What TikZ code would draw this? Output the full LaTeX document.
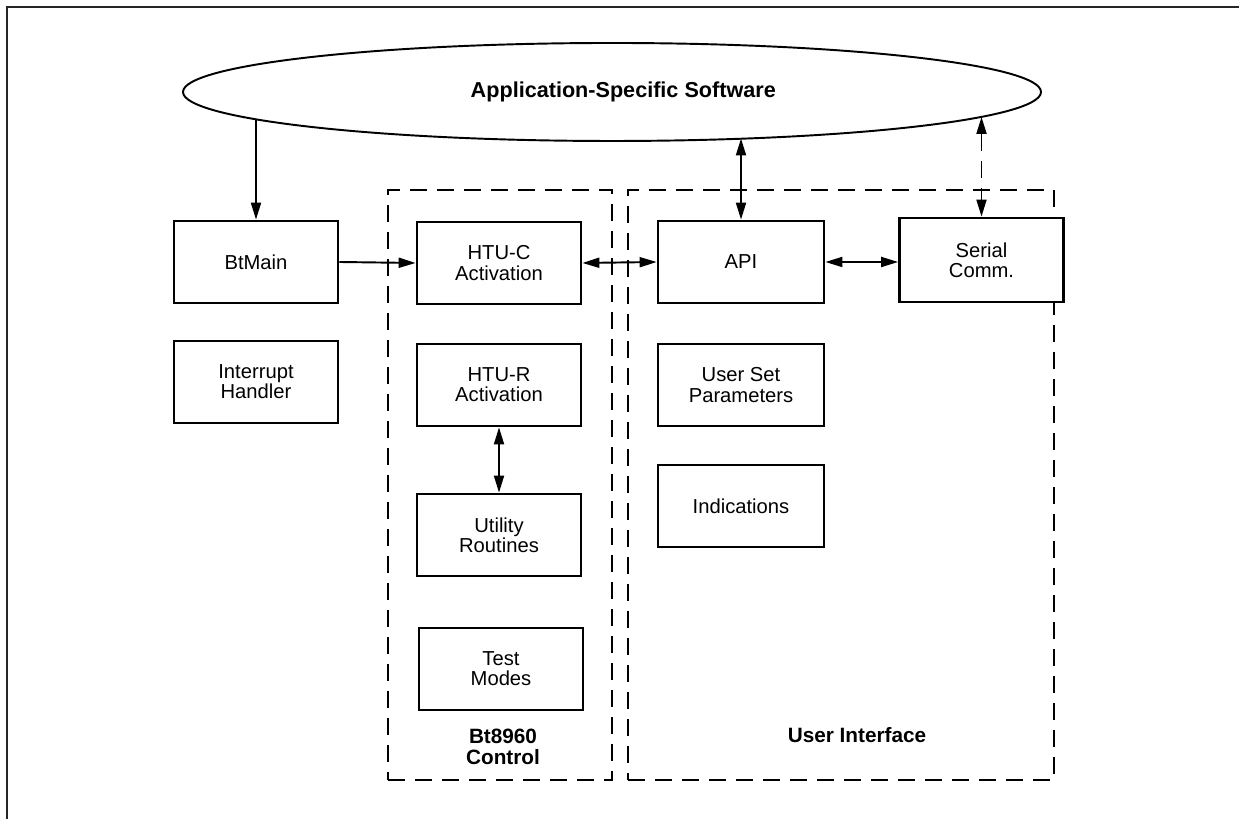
\documentclass[tikz,border=0pt]{standalone}
\usepackage{fontspec}
\setmainfont{Liberation Sans}
\usetikzlibrary{positioning,arrows.meta,calc,shapes.geometric}
\tikzset{
  >={Triangle[length=3.4mm,width=2mm]},
  blk/.style={draw,fill=white,line width=1.6pt,minimum width=3.28cm,minimum height=1.64cm,
    align=center,inner sep=2pt,font=\fontsize{11.5}{11.5}\selectfont},
  grp/.style={draw,line width=1.1pt,dash pattern=on 0.34cm off 0.2cm,inner sep=0pt},
  grplbl/.style={align=center,font=\fontsize{11.8}{12.2}\selectfont\bfseries},
  appell/.style={ellipse,draw,line width=1.1pt,minimum width=17.16cm,
    minimum height=1.96cm,inner sep=0pt,font=\fontsize{12.3}{12.5}\selectfont\bfseries},
  lnk/.style={line width=1.1pt},
  frm/.style={line width=1.1pt,black!85},
}
\begin{document}
\begin{tikzpicture}
  \useasboundingbox (0,0) rectangle (24.78,16.38);
  \draw[frm] (0.14,0) -- (0.14,16.24) -- (24.78,16.24);
  \node[appell] (app) at (12.24,14.54) {\hspace*{0.45cm}Application-Specific Software};
  \node[grp,minimum width=4.48cm,minimum height=11.8cm] (ctlgrp) at (10.0,6.68) {};
  \node[grp,minimum width=8.52cm,minimum height=11.8cm] (uigrp) at (16.82,6.68) {};
  \node[blk] (btmain) at (5.12,11.14) {BtMain};
  \node[blk] (intr) at (5.12,8.74) {Interrupt\\Handler};
  \node[blk] (htuc) at (9.98,11.12) {HTU-C\\Activation};
  \node[blk] (htur) at (9.98,8.68) {HTU-R\\Activation};
  \node[blk] (util) at (9.98,5.68) {Utility\\Routines};
  \node[blk] (test) at (10.02,3.00) {Test\\Modes};
  \node[blk,minimum width=3.32cm] (api) at (14.82,11.14) {API};
  \node[blk,minimum height=1.68cm] (serial) at (19.63,11.18) {Serial\\Comm.};
  \node[blk,minimum width=3.32cm] (usp) at (14.82,8.68) {User Set\\Parameters};
  \node[blk,minimum width=3.32cm] (ind) at (14.82,6.26) {Indications};
  \node[grplbl] (ctllbl) at (10.06,1.44) {Bt8960\\Control};
  \node[grplbl] (uilbl) at (17.14,1.68) {User Interface};
  \coordinate (eBt) at (5.12,13.99);
  \coordinate (eApi) at (14.82,13.61);
  \coordinate (eSer) at (19.63,14.04);
  \draw[lnk,->] (eBt) -- (btmain.north);
  \draw[lnk,<->] (eApi) -- (api.north);
  \draw[lnk,<->,dash pattern=on 0.34cm off 0.2cm] (eSer) -- (serial.north);
  \draw[lnk,->] (btmain.east) -- (htuc.west);
  \draw[lnk,<->] (htuc.east) -- (api.west);
  \draw[lnk,<->] (api.east) -- (api.east -| serial.west);
  \draw[lnk,<->] (htur.south) -- (util.north);
\end{tikzpicture}
\end{document}
